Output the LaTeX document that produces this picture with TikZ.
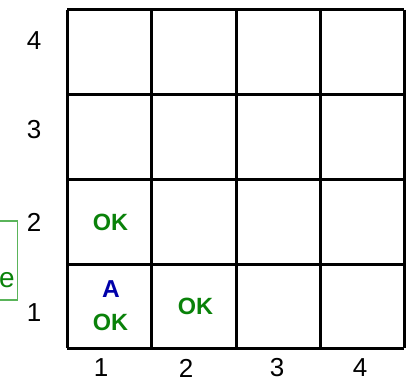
\documentclass[tikz,border=0pt]{standalone}
\usepackage{fontspec}
\setmainfont{Liberation Sans}
\definecolor{okgreen}{RGB}{10,130,10}
\definecolor{agentblue}{RGB}{0,0,170}
\definecolor{boxgreen}{RGB}{90,180,90}
\tikzset{
  gridline/.style={line width=3pt, draw=black},
  axislabel/.style={inner sep=0pt, font=\fontsize{26}{30}\selectfont},
  oklabel/.style={inner sep=0pt, text=okgreen, font=\fontsize{23.5}{27}\selectfont\bfseries},
  alabel/.style={inner sep=0pt, text=agentblue, font=\fontsize{24.5}{28}\selectfont\bfseries},
}
\begin{document}
\begin{tikzpicture}[x=1pt,y=-1pt]
\useasboundingbox (0,0) rectangle (406,379);
% partial green box on the left
\begin{scope}
\clip (0,0) rectangle (406,379);
\draw[boxgreen, line width=1.2pt] (-60,221) rectangle (17.5,300);
\node[inner sep=0pt, anchor=east, text=okgreen, font=\fontsize{28}{32}\selectfont] (lefttext) at (15,280) {e};
\end{scope}
% grid
\foreach \x in {67,151.5,236,320,404} \draw[gridline] (\x,10) -- (\x,348);
\foreach \y in {10,95,180,264,348} \draw[gridline] (67,\y) -- (404,\y);
% row labels
\node[axislabel] (r4) at (34,41) {4};
\node[axislabel] (r3) at (34,130) {3};
\node[axislabel] (r2) at (34,222) {2};
\node[axislabel] (r1) at (34,313) {1};
% column labels
\node[axislabel] (c1) at (101,368) {1};
\node[axislabel] (c2) at (186,368) {2};
\node[axislabel] (c3) at (277,368) {3};
\node[axislabel] (c4) at (360,368) {4};
% cell contents
\node[oklabel] (ok12) at (110.5,222) {OK};
\node[alabel] (agent) at (111,289) {A};
\node[oklabel] (ok11) at (110.5,322) {OK};
\node[oklabel] (ok21) at (195.5,306) {OK};
\end{tikzpicture}
\end{document}
